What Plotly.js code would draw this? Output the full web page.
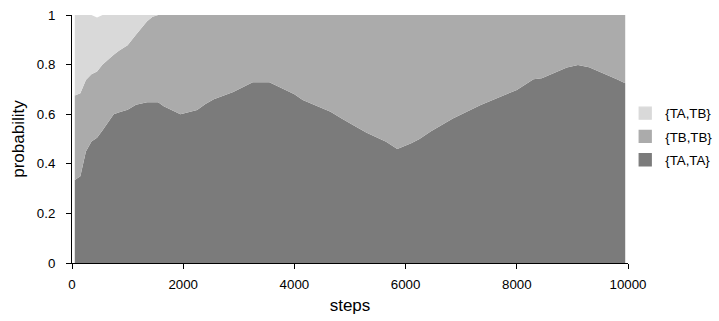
<!DOCTYPE html>
<html>
<head>
<meta charset="utf-8">
<script src="https://cdn.plot.ly/plotly-3.0.1.min.js"></script>
<style>html,body{margin:0;padding:0;background:#fff}#chart{width:719px;height:321px}</style>
</head>
<body>
<div id="chart"></div>
<script>
// sampled steps
var steps = [50, 150, 250, 350, 450, 550, 750, 850, 1000, 1150, 1350, 1450, 1550, 1650, 1950, 2250, 2400, 2550, 2900, 3250, 3550, 4000, 4150, 4650, 4850, 5100, 5300, 5650, 5850, 6100, 6250, 6450, 6850, 7350, 8000, 8300, 8450, 8900, 9100, 9300, 9800, 9950];

// {TA,TA} (bottom)
var taTa = [0.335, 0.35, 0.45, 0.49, 0.505, 0.535, 0.60, 0.608, 0.618, 0.638, 0.648, 0.648, 0.648, 0.632, 0.60, 0.617, 0.641, 0.66, 0.69, 0.729, 0.729, 0.68, 0.657, 0.61, 0.583, 0.55, 0.525, 0.489, 0.46, 0.483, 0.50, 0.53, 0.583, 0.637, 0.698, 0.741, 0.745, 0.788, 0.798, 0.789, 0.741, 0.725];

// {TB,TB} (middle)
var tbTb = [0.34, 0.334, 0.288, 0.271, 0.267, 0.265, 0.24, 0.249, 0.26, 0.282, 0.327, 0.345, 0.352, 0.368, 0.40, 0.383, 0.359, 0.34, 0.31, 0.271, 0.271, 0.32, 0.343, 0.39, 0.417, 0.45, 0.475, 0.511, 0.54, 0.517, 0.50, 0.47, 0.417, 0.363, 0.302, 0.259, 0.255, 0.212, 0.202, 0.211, 0.259, 0.275];

// {TA,TB} (top)
var taTb = [0.325, 0.316, 0.272, 0.239, 0.218, 0.20, 0.16, 0.153, 0.122, 0.08, 0.035, 0.007, 0, 0, 0, 0, 0, 0, 0, 0, 0, 0, 0, 0, 0, 0, 0, 0, 0, 0, 0, 0, 0, 0, 0, 0, 0, 0, 0, 0, 0, 0];

var xTicks = [0, 2000, 4000, 6000, 8000, 10000];
var xTickText = ['0', '2000', '4000', '6000', '8000', '10000'];
var yTicks = [0, 0.2, 0.4, 0.6, 0.8, 1];
var yTickText = ['0', '0.2', '0.4', '0.6', '0.8', '1'];

var names = ['{TA,TA}', '{TB,TB}', '{TA,TB}'];
var series = [taTa, tbTb, taTb];
var colors = ['#7b7b7b', '#ababab', '#d9d9d9'];

var traces = [];
for (var i = 0; i < 3; i++) {
  traces.push({
    type: 'scatter', x: steps, y: series[i], stackgroup: 'one', mode: 'none',
    fillcolor: colors[i], line: {width: 0}, showlegend: false, hoverinfo: 'skip'
  });
}
// legend entries (square swatches), top-to-bottom: {TA,TB}, {TB,TB}, {TA,TA}
for (var j = 2; j >= 0; j--) {
  traces.push({
    type: 'bar', x: [0], y: [null], name: names[j], legendgroup: 'g' + j,
    marker: {color: colors[j], line: {color: colors[j], width: 1.3}}, showlegend: true
  });
}

var fam = 'Liberation Sans, Arial, Helvetica, sans-serif';
var layout = {
  width: 719, height: 321,
  margin: {l: 72, r: 91, t: 15, b: 58, pad: 0, autoexpand: false},
  paper_bgcolor: '#fff', plot_bgcolor: '#fff',
  font: {family: fam, color: '#000', size: 13.3},
  showlegend: true,
  legend: {x: 0.995, xanchor: 'left', y: 0.51, yanchor: 'middle', traceorder: 'grouped',
           tracegroupgap: 3, font: {size: 13.3, family: fam}, bgcolor: 'rgba(0,0,0,0)'},
  xaxis: {range: [0, 10000], tickmode: 'array', tickvals: xTicks, ticktext: xTickText,
          showgrid: false, zeroline: false, showline: true, linecolor: '#000', linewidth: 1,
          ticks: 'outside', ticklen: 5, tickcolor: '#000', tickwidth: 1, ticklabelstandoff: 4,
          title: {text: 'steps', font: {size: 17, family: fam}, standoff: 8}, fixedrange: true},
  yaxis: {range: [0, 1], tickmode: 'array', tickvals: yTicks, ticktext: yTickText,
          showgrid: false, zeroline: false, showline: true, linecolor: '#000', linewidth: 1,
          ticks: 'outside', ticklen: 5, tickcolor: '#000', tickwidth: 1, ticklabelstandoff: 8,
          title: {text: 'probability', font: {size: 17, family: fam}, standoff: 7}, fixedrange: true}
};
Plotly.newPlot('chart', traces, layout, {displayModeBar: false, staticPlot: true});
</script>
</body>
</html>
